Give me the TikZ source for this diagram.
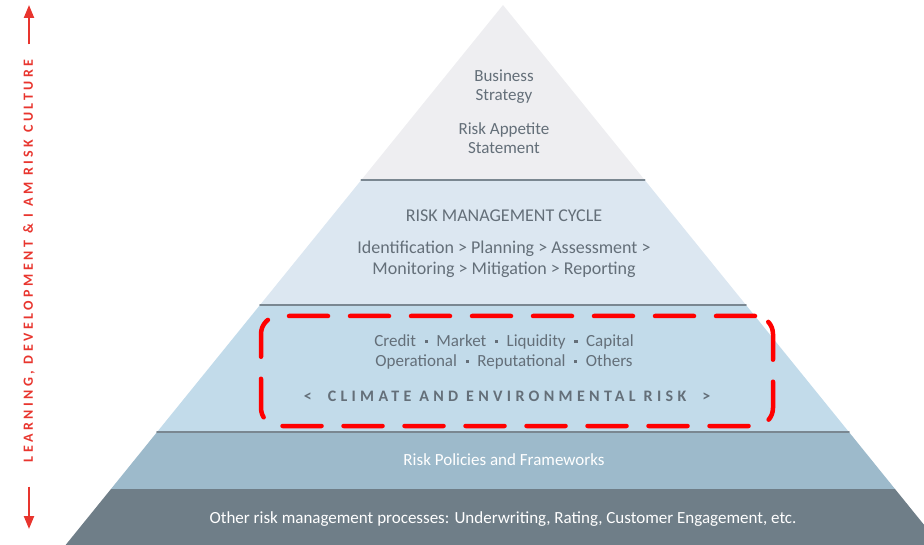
\documentclass[tikz,border=0pt]{standalone}
\usepackage{fontspec}
\setmainfont{Carlito}
\usepackage{tkz-euclide}
\usepackage{tikz}
\usetikzlibrary{arrows.meta}

\definecolor{BandA}{HTML}{EEEEF1}
\definecolor{BandB}{HTML}{DCE7F1}
\definecolor{BandC}{HTML}{C2DBEA}
\definecolor{BandD}{HTML}{9DBACB}
\definecolor{BandE}{HTML}{6F7E88}
\definecolor{SepGray}{HTML}{7A8791}
\definecolor{TextGray}{HTML}{646F79}
\definecolor{CultRed}{HTML}{E8352E}

\newcommand{\dotsep}{\enspace\raisebox{0.2em}{\rule{0.2em}{0.2em}}\enspace}

\begin{document}
\begin{tikzpicture}[x=1pt,y=-1pt,
    txt/.style={text=TextGray,font=\fontsize{17}{19}\selectfont,align=center,inner sep=0pt},
    wtxt/.style={txt,text=white},
    climate/.style={txt,font=\fontsize{16}{18}\selectfont\bfseries\addfontfeature{LetterSpace=27}},
    culture/.style={text=CultRed,font=\fontsize{14}{16}\selectfont\bfseries\addfontfeature{LetterSpace=25},inner sep=0pt},
    cularrow/.style={draw=CultRed,line width=2.2pt,-{Triangle[length=13pt,width=10pt]}},
    hilite/.style={draw=red,line width=4.5pt,line cap=round,dash pattern=on 39pt off 22pt,rounded corners=18pt},
    sepline/.style={draw=SepGray,line width=1.8pt}]

        \useasboundingbox (0,0) rectangle (924,545);

        % \tkzInit[xmin=0,xmax=924,ymin=0,ymax=545]
        % \tkzClip

        \tkzDefPoint(503,5){A}
        \tkzDefPoint(361.3,180){B}
        \tkzDefPoint(644.7,180){C}
        \tkzDefPoint(260,305){D}
        \tkzDefPoint(746,305){E}
        \tkzDefPoint(157.1,432){F}
        \tkzDefPoint(848.9,432){G}
        \tkzDefPoint(111,489){H}
        \tkzDefPoint(895,489){I}
        \tkzDefPoint(65.6,545){J}
        \tkzDefPoint(924,545){K}
        \tkzDefPoint(924,524.8){L}

        \tkzFillPolygon[color=BandA](A,B,C)
        \tkzFillPolygon[color=BandB](B,D,E,C)
        \tkzFillPolygon[color=BandC](D,F,G,E)
        \tkzFillPolygon[color=BandD](F,H,I,G)
        \tkzFillPolygon[color=BandE](H,J,K,L,I)

        \tkzDrawSegments[sepline](B,C D,E F,G)

        % \tkzDrawPoints(A,B,C,D,E,F,G,H,I)
        % \tkzLabelPoints(A,B,C,D,E,F,G,H,I)

        \node[txt] (bus) at (504,87) {Business\\Strategy};
        \node[txt] (rap) at (504,138) {Risk Appetite\\Statement};

        \node[txt,font=\fontsize{18}{21}\selectfont] (rmc) at (504,216) {RISK MANAGEMENT CYCLE};
        \node[txt,font=\fontsize{18}{21}\selectfont] (steps) at (504,259) {Identification > Planning > Assessment >\\Monitoring > Mitigation > Reporting};

        \node[txt,font=\fontsize{17}{20}\selectfont] (types) at (504,352) {Credit\dotsep Market\dotsep Liquidity\dotsep Capital\\Operational\dotsep Reputational\dotsep Others};
        \node[climate] (clim) at (507,396) {<\quad CLIMATE AND ENVIRONMENTAL RISK\quad >};

        \node[hilite,minimum width=512pt,minimum height=110pt] (hl) at (517,371) {};

        \node[wtxt] (pol) at (504,460) {Risk Policies and Frameworks};
        \node[wtxt] (oth) at (503,519) {Other risk management processes: Underwriting, Rating, Customer Engagement, etc.};

        \node[culture,rotate=90] (cult) at (29,261) {LEARNING, DEVELOPMENT \& I AM RISK CULTURE};
        \coordinate (cultTop) at (29,5);
        \coordinate (cultBot) at (29,529);
        \draw[cularrow,shorten <=15pt] (cult.east) -- (cultTop);
        \draw[cularrow,shorten <=24pt] (cult.west) -- (cultBot);
    \end{tikzpicture}
\end{document}
